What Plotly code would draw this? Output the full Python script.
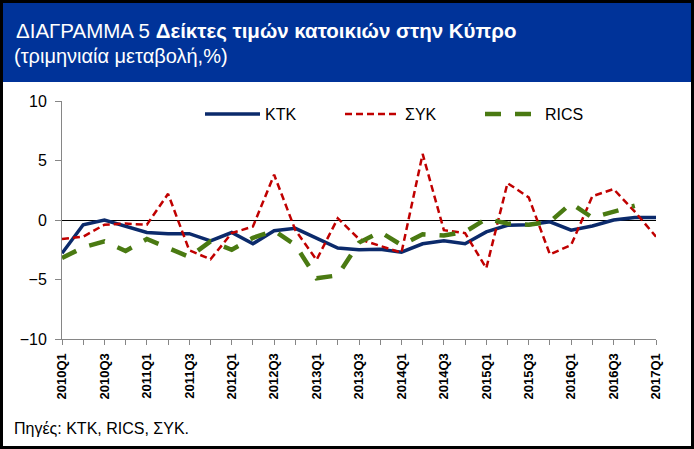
import plotly.graph_objects as go

W, H = 694, 449
L, R, T, B = 62, 38, 101, 110
PW, PH = W - L - R, H - T - B

quarters = [f"{y}Q{q}" for y in range(2010, 2017) for q in range(1, 5)] + ["2017Q1"]

ktk = [-2.8, -0.4, 0.0, -0.55,
       -1.05, -1.15, -1.15, -1.75,
       -1.05, -2.0, -0.9, -0.7,
       -1.55, -2.35, -2.5, -2.45,
       -2.7, -2.0, -1.75, -2.0,
       -1.0, -0.45, -0.4, -0.15,
       -0.85, -0.5, 0.0, 0.2,
       0.2]
syk = [-1.6, -1.4, -0.4, -0.3,
       -0.4, 2.2, -2.55, -3.3,
       -1.1, -0.55, 3.8, -0.85,
       -3.35, 0.15, -1.6, -2.2,
       -2.75, 5.55, -0.85, -1.1,
       -4.05, 3.1, 1.9, -2.9,
       -2.1, 2.0, 2.6, 0.7,
       -1.4]
rics = [-3.2, -2.3, -1.8, -2.6,
        -1.6, -2.3, -3.1, -1.8,
        -2.5, -1.5, -0.9, -2.1,
        -4.9, -4.65, -1.9, -1.0,
        -2.1, -1.2, -1.3, -1.0,
        0.1, -0.3, -0.4, -0.15,
        1.4, 0.2, 0.7, 1.2,
        None]

series_names = ["KTK", "ΣΥΚ", "RICS"]
y_ticks = [-10, -5, 0, 5, 10]

xs = list(range(len(quarters)))
tick_text = [f"<b>{q}</b>" if i % 2 == 0 else "" for i, q in enumerate(quarters)]


def px_x(p):
    return (p - L) / PW


def px_y(p):
    return (H - B - p) / PH


fig = go.Figure()
fig.add_trace(go.Scatter(x=xs, y=ktk, name=series_names[0], mode="lines",
                         line=dict(color="#0B2A6B", width=3.5)))
fig.add_trace(go.Scatter(x=xs, y=syk, name=series_names[1], mode="lines",
                         line=dict(color="#C00000", width=2.5, dash="7px,4px")))
fig.add_trace(go.Scatter(x=xs, y=rics, name=series_names[2], mode="lines",
                         line=dict(color="#4A7A12", width=4.5, dash="16px,14px")))

font_main = "Liberation Sans, Arial, sans-serif"

fig.update_layout(
    width=W, height=H,
    margin=dict(l=L, r=R, t=T, b=B, pad=0),
    paper_bgcolor="white", plot_bgcolor="white",
    font=dict(family=font_main, color="black"),
    showlegend=True,
    legend=dict(orientation="h", x=px_x(200), y=px_y(114), xanchor="left", yanchor="middle",
                font=dict(size=16, family=font_main), bgcolor="rgba(0,0,0,0)",
                entrywidth=70, entrywidthmode="pixels", itemwidth=55,
                traceorder="normal"),
    xaxis=dict(range=[0, 28], tickmode="array", tickvals=xs, ticktext=tick_text,
               tickangle=-90, ticks="outside", ticklen=5, tickcolor="#868686",
               showline=True, linecolor="#868686", linewidth=1, showgrid=False,
               zeroline=False, tickfont=dict(size=13, family=font_main, color="black"),
               ticklabelstandoff=3),
    yaxis=dict(range=[-10, 10], tickmode="array", tickvals=y_ticks,
               ticks="outside", ticklen=6, tickcolor="#868686",
               showline=True, linecolor="#868686", linewidth=1, showgrid=False,
               zeroline=True, zerolinecolor="black", zerolinewidth=1,
               tickfont=dict(size=16, family=font_main, color="black"),
               ticklabelstandoff=5),
)

border = 3
shapes = [
    dict(type="rect", xref="paper", yref="paper", x0=px_x(0), x1=px_x(W),
         y0=px_y(82), y1=px_y(0), fillcolor="#003399", line=dict(width=0), layer="below"),
    dict(type="rect", xref="paper", yref="paper", x0=px_x(0), x1=px_x(W),
         y0=px_y(border), y1=px_y(0), fillcolor="black", line=dict(width=0)),
    dict(type="rect", xref="paper", yref="paper", x0=px_x(0), x1=px_x(W),
         y0=px_y(H), y1=px_y(H - border), fillcolor="black", line=dict(width=0)),
    dict(type="rect", xref="paper", yref="paper", x0=px_x(0), x1=px_x(border),
         y0=px_y(H), y1=px_y(0), fillcolor="black", line=dict(width=0)),
    dict(type="rect", xref="paper", yref="paper", x0=px_x(W - border), x1=px_x(W),
         y0=px_y(H), y1=px_y(0), fillcolor="black", line=dict(width=0)),
]
fig.update_layout(shapes=shapes)

fig.add_annotation(xref="paper", yref="paper", x=px_x(14), y=px_y(31), xanchor="left",
                   yanchor="middle", showarrow=False,
                   text="ΔΙΑΓΡΑΜΜΑ 5 <b>Δείκτες τιμών κατοικιών στην Κύπρο</b>",
                   font=dict(size=20.5, color="white", family=font_main))
fig.add_annotation(xref="paper", yref="paper", x=px_x(12), y=px_y(56), xanchor="left",
                   yanchor="middle", showarrow=False,
                   text="(τριμηνιαία μεταβολή,%)",
                   font=dict(size=20, color="white", family=font_main))
fig.add_annotation(xref="paper", yref="paper", x=px_x(12), y=px_y(428), xanchor="left",
                   yanchor="middle", showarrow=False,
                   text="Πηγές: KTK, RICS, ΣΥΚ.",
                   font=dict(size=16, color="black", family=font_main))

fig.write_html("out.html", config={"displayModeBar": False},
               post_script="document.body.style.margin='0px';")
